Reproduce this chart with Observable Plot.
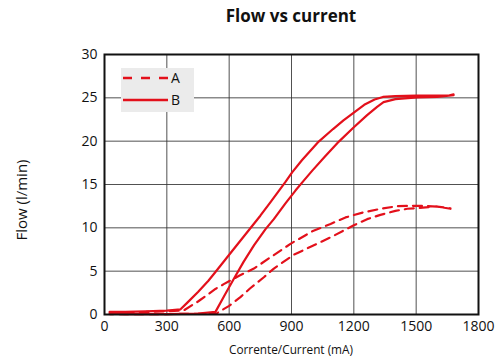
<!DOCTYPE html>
<html>
<head>
<meta charset="utf-8">
<script src="https://cdn.jsdelivr.net/npm/d3@7"></script>
<script src="https://cdn.jsdelivr.net/npm/@observablehq/plot@0.6"></script>
<style>
  html, body { margin: 0; padding: 0; background: #fff; }
  #wrap { position: relative; width: 500px; height: 360px; font-family: "Open Sans", sans-serif; }
  #title { position: absolute; left: 104px; width: 374px; top: 4px; text-align: center; font-weight: bold; font-size: 17px; color: #111; }
  #ylab { position: absolute; left: 21px; top: 200px; transform: translate(-50%, -50%) rotate(-90deg); font-size: 15px; white-space: nowrap; color: #111; }
  #xlab { position: absolute; left: 104px; width: 374px; top: 341px; text-align: center; font-size: 11.8px; color: #111; }
  #legend { position: absolute; left: 121px; top: 68px; }
</style>
</head>
<body>
<div id="wrap">
  <div id="chart"></div>
  <div id="title">Flow vs current</div>
  <div id="ylab">Flow (l/min)</div>
  <div id="xlab">Corrente/Current (mA)</div>
  <svg id="legend" width="73" height="44"></svg>
</div>
<script>
// ---- data ----
const seriesNames = ["A", "B"];
const xTicks = [0, 300, 600, 900, 1200, 1500, 1800];
const yTicks = [0, 5, 10, 15, 20, 25, 30];

// Series A (dashed): rising branch, then returning branch
const aCurrent = [25, 200, 380, 450, 534, 574, 650, 719, 799, 895, 1000, 1088, 1160, 1248, 1330, 1409, 1505, 1601, 1665,
                  1665, 1601, 1569, 1457, 1400, 1328, 1264, 1200, 1168, 1088, 1040, 1000, 911, 815, 767, 700, 654, 600, 550, 540, 300, 25];
const aFlow    = [0.25, 0.3, 0.45, 1.5, 2.95, 3.5, 4.5, 5.3, 6.6, 8.15, 9.6, 10.45, 11.2, 11.8, 12.2, 12.5, 12.55, 12.45, 12.2,
                  12.25, 12.45, 12.4, 12.2, 11.95, 11.5, 11.0, 10.3, 9.9, 8.9, 8.35, 7.9, 6.9, 5.3, 4.3, 3.0, 2.0, 1.0, 0.3, 0.1, 0.05, 0.05];

// Series B (solid): rising branch, then returning branch
const bCurrent = [25, 100, 200, 300, 366, 400, 450, 500, 534, 600, 650, 700, 750, 800, 871, 903, 950, 1031, 1100, 1150, 1200, 1250, 1300, 1340, 1400, 1500, 1600, 1660, 1680,
                  1680, 1600, 1505, 1400, 1343, 1312, 1264, 1200, 1128, 1060, 1000, 959, 919, 870, 815, 775, 720, 670, 622, 580, 534, 450, 300, 100, 25];
const bFlow    = [0.3, 0.3, 0.35, 0.45, 0.6, 1.4, 2.6, 3.9, 4.9, 6.9, 8.4, 9.9, 11.4, 13.0, 15.3, 16.4, 17.8, 19.95, 21.4, 22.4, 23.3, 24.2, 24.8, 25.1, 25.2, 25.25, 25.25, 25.3, 25.4,
                  25.3, 25.1, 25.05, 24.85, 24.5, 23.95, 23.0, 21.6, 19.95, 18.2, 16.6, 15.45, 14.3, 12.8, 11.0, 9.85, 8.0, 6.1, 4.1, 2.3, 0.3, 0.1, 0.05, 0.05, 0.1];

const red = "#e3101b";

const aRows = aCurrent.map((c, i) => ({current: c, flow: aFlow[i], series: seriesNames[0]}));
const bRows = bCurrent.map((c, i) => ({current: c, flow: bFlow[i], series: seriesNames[1]}));

const chart = Plot.plot({
  width: 500,
  height: 360,
  marginLeft: 104,
  marginRight: 22,
  marginTop: 54,
  marginBottom: 46,
  style: {fontFamily: "'Open Sans', sans-serif", fontSize: "14px", color: "#111", background: "transparent"},
  x: {domain: [0, 1800], ticks: xTicks, label: null},
  y: {domain: [0, 30], ticks: yTicks, label: null},
  marks: [
    Plot.gridX(xTicks, {stroke: "#333", strokeOpacity: 0.85, strokeWidth: 1}),
    Plot.gridY(yTicks, {stroke: "#333", strokeOpacity: 0.85, strokeWidth: 1}),
    Plot.line(aRows, {x: "current", y: "flow", stroke: red, strokeWidth: 2.2, strokeDasharray: "9,6"}),
    Plot.line(bRows, {x: "current", y: "flow", stroke: red, strokeWidth: 2.2}),
    Plot.frame({stroke: "#111", strokeWidth: 2}),
    Plot.axisX(xTicks, {tickSize: 0, tickPadding: 7, tickFormat: d => String(d), label: null}),
    Plot.axisY(yTicks, {tickSize: 0, tickPadding: 7, tickFormat: d => String(d), label: null})
  ]
});
document.getElementById("chart").appendChild(chart);

// legend
const lg = d3.select("#legend");
lg.append("rect").attr("width", 73).attr("height", 44).attr("fill", "#ebebeb");
[[seriesNames[0], 10, "9,9"], [seriesNames[1], 32, null]].forEach(([name, y, dash]) => {
  const l = lg.append("line").attr("x1", 2).attr("x2", 47).attr("y1", y).attr("y2", y)
    .attr("stroke", red).attr("stroke-width", 2.5);
  if (dash) l.attr("stroke-dasharray", dash);
  lg.append("text").attr("x", 50).attr("y", y + 5).text(name)
    .attr("font-family", "'Open Sans', sans-serif").attr("font-size", 14).attr("fill", "#111");
});
</script>
</body>
</html>
